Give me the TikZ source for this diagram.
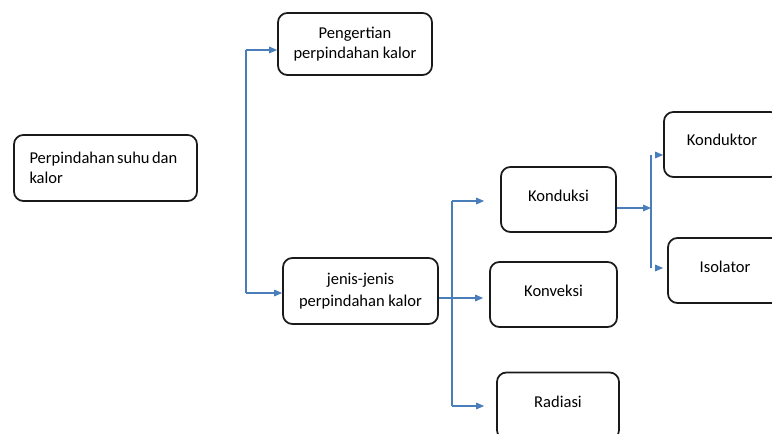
\documentclass[tikz,border=0pt]{standalone}
\usepackage{fontspec}
\setmainfont{Carlito}
\usetikzlibrary{positioning, arrows.meta, calc}
\definecolor{linkblue}{HTML}{4A7EBB}
\definecolor{boxline}{HTML}{1A1A1A}

\tikzset{
  topic/.style={draw=boxline, line width=1.3pt, rounded corners=7pt, fill=white,
    align=center, inner sep=0pt, font=\fontsize{12.4}{15}\selectfont},
  link/.style={draw=linkblue, line width=0.8pt},
  arrow/.style={link, -{Triangle[length=6pt, width=5pt]}}
}

\begin{document}
\begin{tikzpicture}[x=0.75pt, y=-0.75pt]
  \useasboundingbox (0,0) rectangle (772,434);
  \clip (0,0) rectangle (772,434);

  % boxes
  \node[topic, minimum width={183*0.75pt}, minimum height={66*0.75pt}, align=left, text width={152*0.75pt}]
    (suhu) at (105.5,168) {Perpindahan\hspace{1.8pt}suhu\hspace{1.8pt}dan\\kalor\\[5pt]};
  \node[topic, minimum width={154*0.75pt}, minimum height={62*0.75pt}]
    (pengertian) at (355,44) {Pengertian\\perpindahan kalor};
  \node[topic, minimum width={155*0.75pt}, minimum height={66*0.75pt}]
    (jenis) at (360.5,291) {jenis-jenis\\[1pt]perpindahan kalor};
  \node[topic, minimum width={115*0.75pt}, minimum height={65*0.75pt}]
    (konduksi) at (558.5,199.5) {\raisebox{6pt}{Konduksi}};
  \node[topic, minimum width={127*0.75pt}, minimum height={65*0.75pt}]
    (konveksi) at (553.5,294.5) {\raisebox{6pt}{Konveksi}};
  \node[topic, minimum width={122*0.75pt}, minimum height={67*0.75pt}]
    (radiasi) at (558,406) {\raisebox{7pt}{Radiasi}};
  \node[topic, minimum width={116*0.75pt}, minimum height={65*0.75pt}]
    (konduktor) at (722,144.5) {\raisebox{7pt}{Konduktor}};
  \node[topic, minimum width={114*0.75pt}, minimum height={65*0.75pt}]
    (isolator) at (725,270.5) {\raisebox{6pt}{Isolator}};

  % first bracket
  \coordinate (b1top) at (246,50);
  \coordinate (b1bot) at (246,293);
  \draw[link] (b1top) -- (b1bot);
  \draw[arrow] (b1top) -- (b1top -| pengertian.west);
  \draw[arrow] (b1bot) -- (b1bot -| jenis.west);

  % second bracket
  \coordinate (b2top) at (452,201);
  \coordinate (b2mid) at (452,298);
  \coordinate (b2bot) at (452,406);
  \draw[link] (b2top) -- (b2bot);
  \draw[arrow, shorten >=12pt] (b2top) -- (b2top -| konduksi.west);
  \draw[arrow, shorten >=4.5pt] (jenis.east |- b2mid) -- (b2mid -| konveksi.west);
  \draw[arrow, shorten >=9pt] (b2bot) -- (b2bot -| radiasi.west);

  % third bracket
  \coordinate (b3mid) at (651,208);
  \coordinate (b3top) at (651,155);
  \coordinate (b3bot) at (651,268);
  \draw[arrow] (konduksi.east |- b3mid) -- (b3mid);
  \draw[link] (b3top) -- (b3bot);
  \draw[arrow] ($(b3top)+(4,0)$) -- (b3top -| konduktor.west);
  \draw[arrow, shorten >=3pt] ($(b3bot)+(4,0)$) -- (b3bot -| isolator.west);
\end{tikzpicture}
\end{document}
